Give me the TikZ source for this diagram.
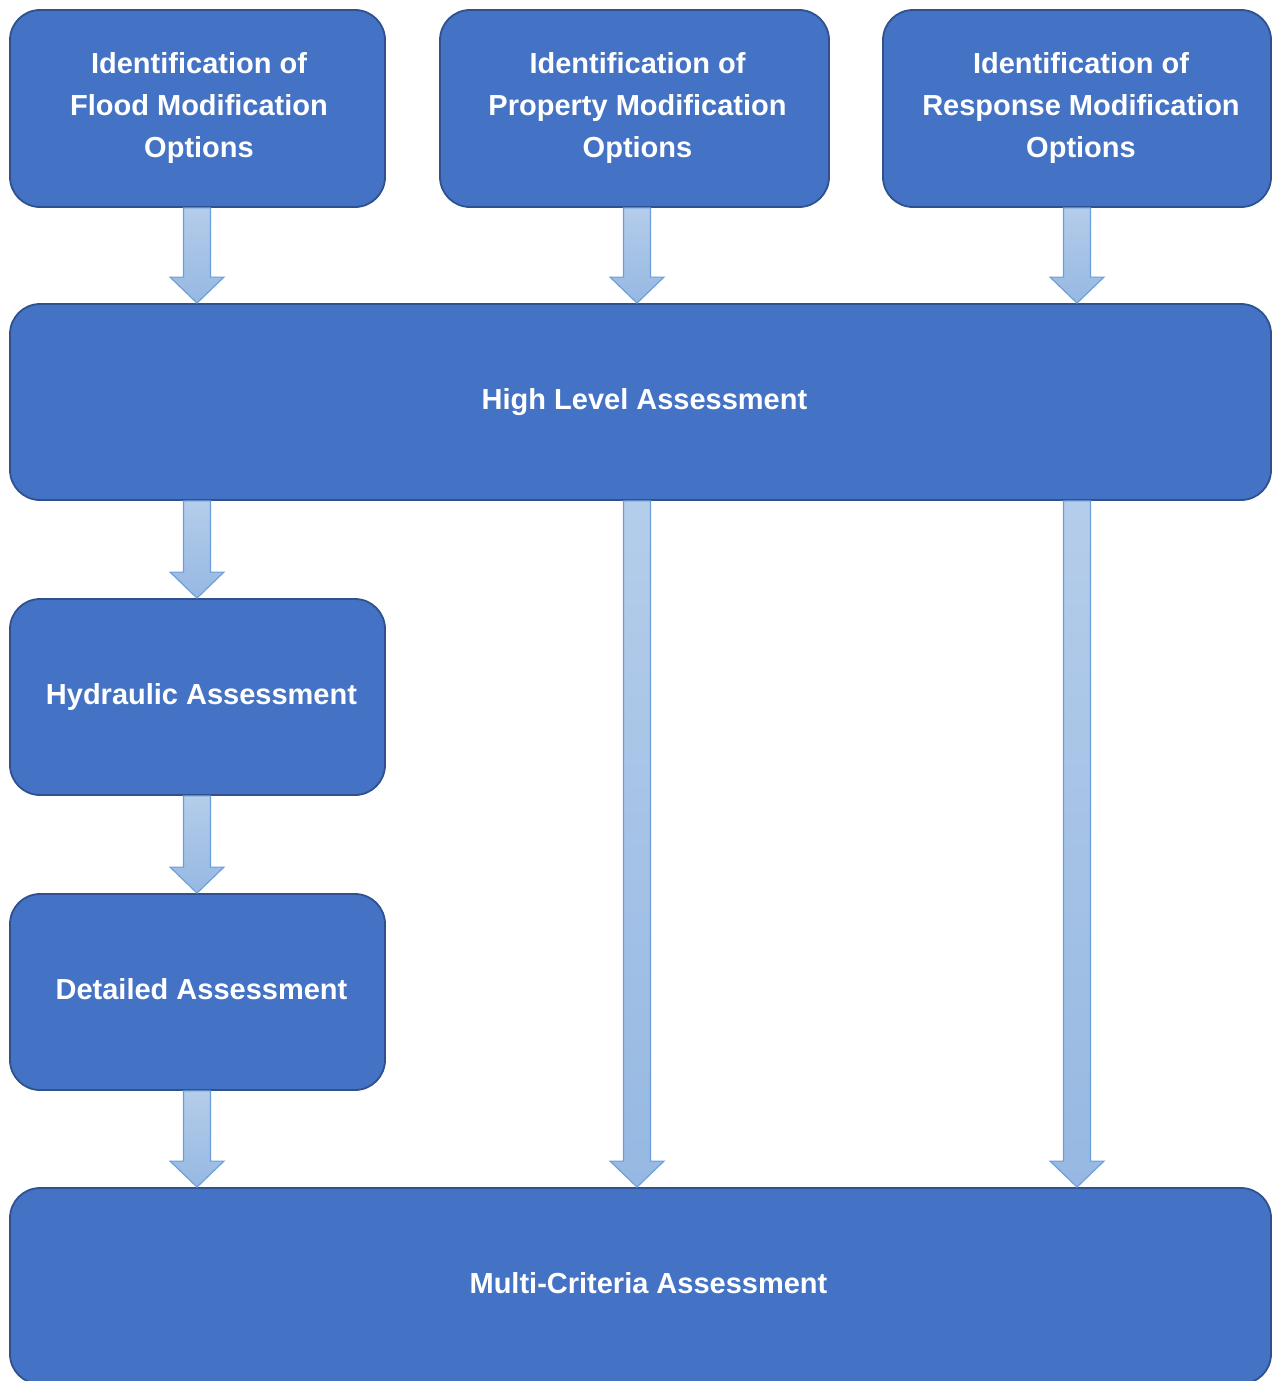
\documentclass[tikz,border=0pt]{standalone}
\usepackage{fontspec}
\setmainfont{Liberation Sans}
\usetikzlibrary{calc}
\definecolor{boxfill}{HTML}{4472C4}
\definecolor{boxline}{HTML}{2F528F}
\definecolor{arrtop}{HTML}{B4CDEA}
\definecolor{arrbot}{HTML}{96B8E2}
\definecolor{arrline}{HTML}{6A9EDA}
\tikzset{
  box/.style={draw=boxline, line width=1.8pt, fill=boxfill, rounded corners=30pt, inner sep=0pt},
  lblm/.style={text=white, align=center, inner sep=0pt,
    font=\bfseries\fontsize{29}{42}\selectfont},
  lbl/.style={lblm, text height=21pt, text depth=6pt},
  barrow/.style={draw=arrline, line width=1.1pt, top color=arrtop, bottom color=arrbot, line join=miter}
}
\newcommand\blockarrow[2]{%
  \path[barrow] let \p1=(#1), \p2=(#2) in
    (\x1-13.5pt,\y1) -- (\x1+13.5pt,\y1) -- (\x1+13.5pt,\y2+26pt) -- (\x1+27pt,\y2+26pt)
    -- (\x1,\y2) -- (\x1-27pt,\y2+26pt) -- (\x1-13.5pt,\y2+26pt) -- cycle;}
\begin{document}
\begin{tikzpicture}[x=1pt,y=-1pt]
\useasboundingbox (0,0) rectangle (1274,1381);
\clip (0,0) rectangle (1274,1381);
\coordinate (col1) at (197,0);
\coordinate (col2) at (637,0);
\coordinate (col3) at (1077,0);
\node[box, minimum width=375pt, minimum height=197pt] (flood) at (197.5,108.5) {};
\node[box, minimum width=389pt, minimum height=197pt] (prop) at (634.5,108.5) {};
\node[box, minimum width=388pt, minimum height=197pt] (resp) at (1077,108.5) {};
\node[box, minimum width=1261pt, minimum height=196pt] (high) at (640.5,402) {};
\node[box, minimum width=375pt, minimum height=196pt] (hyd) at (197.5,697) {};
\node[box, minimum width=375pt, minimum height=196pt] (det) at (197.5,992) {};
\node[box, minimum width=1261pt, minimum height=196pt] (multi) at (640.5,1286) {};
\node[lblm] (tflood) at ($(flood.center)+(1.5,0)$) {Identification of\\Flood Modification\\Options};
\node[lblm] (tprop) at ($(prop.center)+(3,0)$) {Identification of\\Property Modification\\Options};
\node[lblm] (tresp) at ($(resp.center)+(4,0)$) {Identification of\\Response Modification\\Options};
\node[lbl] (thigh) at ($(high.center)+(4,0)$) {High Level Assessment};
\node[lbl] (thyd) at ($(hyd.center)+(4,0)$) {Hydraulic Assessment};
\node[lbl] (tdet) at ($(det.center)+(4,0)$) {Detailed Assessment};
\node[lbl] (tmulti) at ($(multi.center)+(8,0)$) {Multi-Criteria Assessment};
\blockarrow{col1 |- flood.south}{col1 |- high.north}
\blockarrow{col2 |- prop.south}{col2 |- high.north}
\blockarrow{col3 |- resp.south}{col3 |- high.north}
\blockarrow{col1 |- high.south}{col1 |- hyd.north}
\blockarrow{col1 |- hyd.south}{col1 |- det.north}
\blockarrow{col1 |- det.south}{col1 |- multi.north}
\blockarrow{col2 |- high.south}{col2 |- multi.north}
\blockarrow{col3 |- high.south}{col3 |- multi.north}
\end{tikzpicture}
\end{document}
